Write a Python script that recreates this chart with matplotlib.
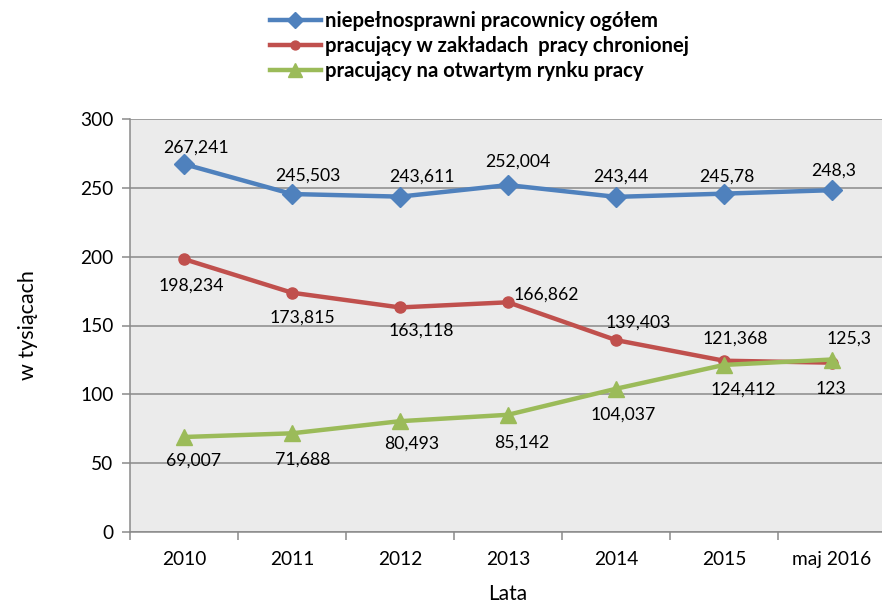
import matplotlib
matplotlib.use("Agg")
import matplotlib.pyplot as plt
from matplotlib.ticker import FixedLocator

plt.rcParams['font.family'] = ['Lato', 'DejaVu Sans']

categories = ["2010", "2011", "2012", "2013", "2014", "2015", "maj 2016"]
ogolem = [267.241, 245.503, 243.611, 252.004, 243.44, 245.78, 248.3]
chroniony = [198.234, 173.815, 163.118, 166.862, 139.403, 124.412, 123]
otwarty = [69.007, 71.688, 80.493, 85.142, 104.037, 121.368, 125.3]
label_ogolem = ["267,241", "245,503", "243,611", "252,004", "243,44", "245,78", "248,3"]
label_chroniony = ["198,234", "173,815", "163,118", "166,862", "139,403", "124,412", "123"]
label_otwarty = ["69,007", "71,688", "80,493", "85,142", "104,037", "121,368", "125,3"]
series_names = ["niepełnosprawni pracownicy ogółem",
                "pracujący w zakładach  pracy chronionej",
                "pracujący na otwartym rynku pracy"]
yticks = [0, 50, 100, 150, 200, 250, 300]

blue = "#4F81BD"
red = "#C0504D"
green = "#9BBB59"
grid_c = "#8A8A8A"

W, H = 882, 605
fig = plt.figure(figsize=(W / 100, H / 100), dpi=100)
left_px, right_px, top_px, bottom_px = 130, 886, 119, 532
ax = fig.add_axes([left_px / W, 1 - bottom_px / H, (right_px - left_px) / W, (bottom_px - top_px) / H])
ax.set_facecolor("#EBEBEB")

x = list(range(len(categories)))
l1, = ax.plot(x, ogolem, color=blue, lw=3.2, marker="D", ms=10, label=series_names[0], zorder=3)
l2, = ax.plot(x, chroniony, color=red, lw=3.2, marker="o", ms=8, label=series_names[1], zorder=3)
l3, = ax.plot(x, otwarty, color=green, lw=3.2, marker="^", ms=12, label=series_names[2], zorder=4)

ax.set_xlim(-0.5, len(categories) - 0.5)
ax.set_ylim(0, 300)
ax.set_yticks(yticks)
ax.yaxis.grid(True, color=grid_c, lw=1.1)
ax.set_axisbelow(True)
ax.set_xticks(x)
ax.set_xticklabels(categories)
ax.xaxis.set_minor_locator(FixedLocator([i - 0.5 for i in range(len(categories) + 1)]))
ax.tick_params(axis="x", which="major", length=0, pad=14, labelsize=13.8, colors="black")
ax.tick_params(axis="x", which="minor", length=6, width=1.1, color=grid_c)
ax.tick_params(axis="y", length=6, width=1.1, color=grid_c, pad=6, labelsize=13.8)
for s in ["top", "right"]:
    ax.spines[s].set_visible(False)
for s in ["left", "bottom"]:
    ax.spines[s].set_color(grid_c)
    ax.spines[s].set_linewidth(1.1)

# data label offsets in pixels (dx, dy)
off_b = [(12, 16), (16, 18), (22, 20), (10, 23), (5, 20), (3, 17), (2, 20)]
off_r = [(7, -27), (10, -25), (21, -23), (38, 8), (22, 17), (19, -29), (-1, -26)]
off_g = [(10, -24), (11, -26), (12, -22), (14, -28), (7, -26), (11, 26), (17, 21)]
for vals, labs, offs in [(ogolem, label_ogolem, off_b), (chroniony, label_chroniony, off_r),
                         (otwarty, label_otwarty, off_g)]:
    for xi, v, t, (dx, dy) in zip(x, vals, labs, offs):
        ax.annotate(t, (xi, v), xytext=(dx, dy), textcoords="offset pixels",
                    ha="center", va="center", fontsize=12.7, zorder=5)

ax.set_ylabel("w tysiącach", fontsize=15.5, labelpad=30)
ax.set_xlabel("Lata", fontsize=15, labelpad=11)

fig.legend(handles=[l1, l2, l3], loc="upper left", bbox_to_anchor=(270 / W, 1 - 11 / H),
           frameon=False, prop={"weight": "bold", "size": 14.6},
           handlelength=2.5, handletextpad=0.2, labelspacing=0.25, borderpad=0,
           borderaxespad=0, numpoints=1, markerscale=0.8)

fig.savefig("out.png", dpi=100)
